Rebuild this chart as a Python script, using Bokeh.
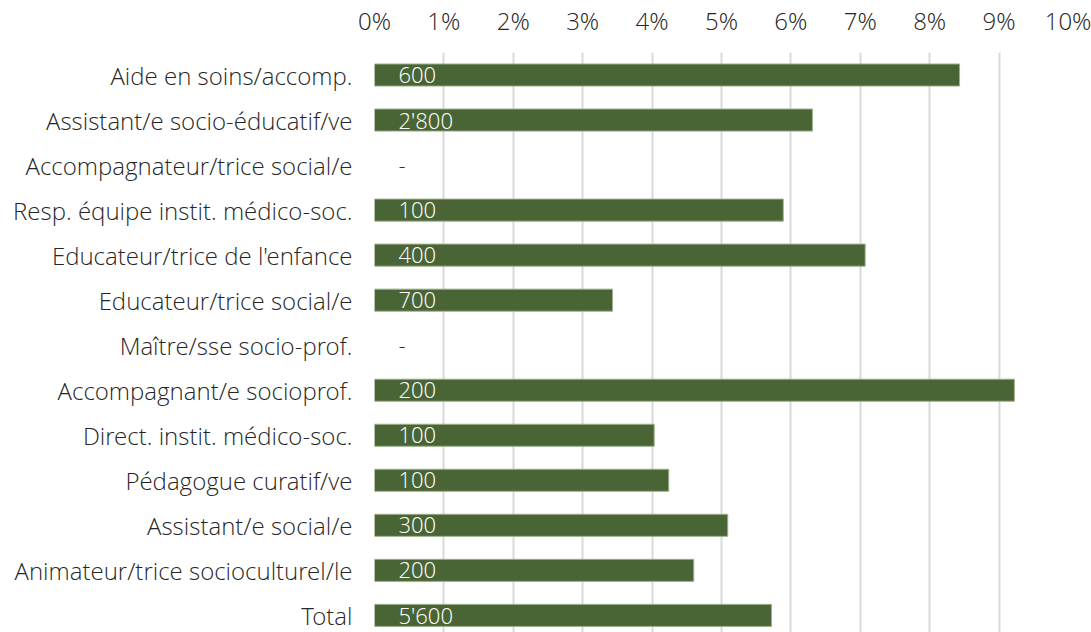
from bokeh.plotting import figure
from bokeh.models import Range1d, FixedTicker, ColumnDataSource
from bokeh.core.properties import value
from bokeh.embed import file_html
from bokeh.resources import INLINE

categories = [
    "Aide en soins/accomp.",
    "Assistant/e socio-éducatif/ve",
    "Accompagnateur/trice social/e",
    "Resp. équipe instit. médico-soc.",
    "Educateur/trice de l'enfance",
    "Educateur/trice social/e",
    "Maître/sse socio-prof.",
    "Accompagnant/e socioprof.",
    "Direct. instit. médico-soc.",
    "Pédagogue curatif/ve",
    "Assistant/e social/e",
    "Animateur/trice socioculturel/le",
    "Total",
]
shares = [0.0843, 0.0631, None, 0.0589, 0.0707, 0.0343, None, 0.0922, 0.0403, 0.0424, 0.0509, 0.0460, 0.0572]
counts = ["600", "2'800", "-", "100", "400", "700", "-", "200", "100", "100", "300", "200", "5'600"]
x_ticks = [0.0, 0.01, 0.02, 0.03, 0.04, 0.05, 0.06, 0.07, 0.08, 0.09, 0.10]
x_tick_labels = ["0%", "1%", "2%", "3%", "4%", "5%", "6%", "7%", "8%", "9%", "10%"]

FONT = "Open Sans Light, Open Sans"
FS = "24px"
FS_IN = "22px"
TXT = "#262626"
BAR = "#4a6535"

idx = list(range(len(categories)))
has_bar = [s is not None for s in shares]

bars = ColumnDataSource(dict(
    y=[i for i, h in zip(idx, has_bar) if h],
    right=[s for s, h in zip(shares, has_bar) if h],
))
in_lbl = ColumnDataSource(dict(
    y=[i for i, h in zip(idx, has_bar) if h],
    t=[c for c, h in zip(counts, has_bar) if h],
))
dash_lbl = ColumnDataSource(dict(
    y=[i for i, h in zip(idx, has_bar) if not h],
    t=[c for c, h in zip(counts, has_bar) if not h],
))

p = figure(
    width=1091, height=632,
    output_backend="svg", toolbar_location=None,
    x_range=Range1d(0, 0.10),
    y_range=Range1d(12.38, -0.5),
    x_axis_location="above",
    min_border_left=374, min_border_right=23,
    min_border_top=50, min_border_bottom=0,
)
p.outline_line_color = None
p.background_fill_color = "white"
p.border_fill_color = "white"

p.hbar(y="y", left=0, right="right", height=0.49, source=bars,
       fill_color=BAR, line_color="#9db08c", line_width=1)

p.text(x=0, y="y", text="t", source=in_lbl, x_offset=24, y_offset=0,
       text_baseline="middle", text_align="left", text_line_height=1.0,
       text_color="white", text_font=value(FONT), text_font_size=FS_IN)
p.text(x=0, y="y", text="t", source=dash_lbl, x_offset=24,
       text_baseline="middle", text_align="left", text_line_height=1.0,
       text_color=TXT, text_font=value(FONT), text_font_size=FS_IN)

xa = p.xaxis[0]
xa.ticker = FixedTicker(ticks=x_ticks)
xa.major_label_overrides = {t: l for t, l in zip(x_ticks, x_tick_labels)}
xa.axis_line_color = None
xa.major_tick_line_color = None
xa.minor_tick_line_color = None
xa.major_tick_out = 0
xa.major_tick_in = 0
xa.major_label_standoff = 16
xa.major_label_text_font = FONT
xa.major_label_text_font_size = FS
xa.major_label_text_color = TXT

ya = p.yaxis[0]
ya.ticker = FixedTicker(ticks=idx)
ya.major_label_overrides = {i: c for i, c in zip(idx, categories)}
ya.axis_line_color = None
ya.major_tick_line_color = None
ya.minor_tick_line_color = None
ya.major_tick_out = 0
ya.major_tick_in = 0
ya.major_label_standoff = 22
ya.major_label_text_font = FONT
ya.major_label_text_font_size = FS
ya.major_label_text_color = TXT

p.xgrid.ticker = FixedTicker(ticks=x_ticks)
p.xgrid.grid_line_color = "#d9d9d9"
p.xgrid.grid_line_width = 2
p.ygrid.grid_line_color = None

open("out.html", "w").write(file_html(p, INLINE))
